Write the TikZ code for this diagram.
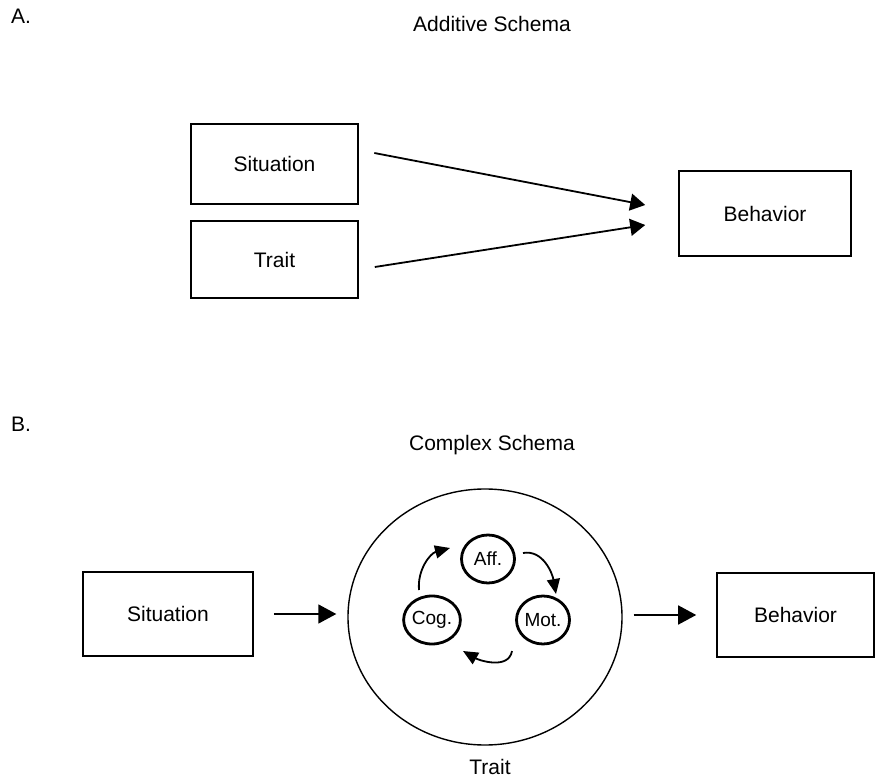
\documentclass[tikz,border=0pt]{standalone}
\usepackage{fontspec}
\setmainfont{Liberation Sans}
\usetikzlibrary{arrows.meta,shapes.geometric}
\begin{document}
\begin{tikzpicture}[x=1pt,y=1pt,
  lbl/.style={font=\fontsize{21}{24}\selectfont, inner sep=0pt},
  boxnode/.style={draw, line width=1.6pt, rectangle, inner sep=0pt, font=\fontsize{21}{24}\selectfont},
  smallc/.style={draw, line width=2.8pt, ellipse, minimum width=53pt, minimum height=48pt, inner sep=0pt, font=\fontsize{19}{22}\selectfont},
  arrA/.style={line width=1.8pt, -{Triangle[length=15pt,width=17pt]}},
  arrB/.style={line width=1.6pt, -{Triangle[length=18pt,width=19pt]}},
  arrS/.style={line width=1.8pt, -{Triangle[length=15pt,width=13pt]}}]
\useasboundingbox (0,0) rectangle (877,782);
% Part A
\node[lbl] (la) at (21,766) {A.};
\node[lbl] (ta) at (492,758) {Additive Schema};
\node[boxnode, minimum width=167pt, minimum height=80pt] (sitA) at (274.5,618) {Situation};
\node[boxnode, minimum width=167pt, minimum height=77pt] (traitA) at (274.5,522.5) {Trait};
\node[boxnode, minimum width=172pt, minimum height=85pt] (behA) at (765,568.5) {Behavior};
\draw[arrA] ([shift={(15.5,11)}]sitA.east) -- ([shift={(-33,8.5)}]behA.west);
\draw[arrA] ([shift={(16,-7.5)}]traitA.east) -- ([shift={(-33,-11.5)}]behA.west);
% Part B
\node[lbl] (lb) at (21,358) {B.};
\node[lbl] (tb) at (492,337) {Complex Schema};
\node[boxnode, minimum width=170pt, minimum height=84pt] (sitB) at (168,168) {Situation};
\node[draw, line width=1.4pt, ellipse, minimum width=274pt, minimum height=256pt, inner sep=0pt] (circ) at (485,165) {};
\node[lbl] (traitB) at (490,15) {Trait};
\node[boxnode, minimum width=157pt, minimum height=84pt] (behB) at (795.5,167) {Behavior};
\draw[arrB, shorten <=20pt, shorten >=11pt] (sitB.east) -- (sitB.east -| circ.west);
\draw[arrB, shorten <=11pt, shorten >=20pt] (circ.east |- behB.west) -- (behB.west);
\node[smallc] (aff) at (488,223) {Aff.};
\node[smallc] (cog) at (432,162) {Cog.};
\node[smallc] (mot) at (543,162) {Mot.};
\draw[arrS] ([shift={(-13,30)}]cog.center) to[out=95,in=195] ([shift={(-38,11)}]aff.center);
\draw[arrS] ([shift={(35,6)}]aff.center) to[out=10,in=100] ([shift={(13,26)}]mot.center);
\draw[arrS] ([shift={(-31,-31)}]mot.center) to[out=-100,in=-30] ([shift={(31,-31)}]cog.center);
\end{tikzpicture}
\end{document}
